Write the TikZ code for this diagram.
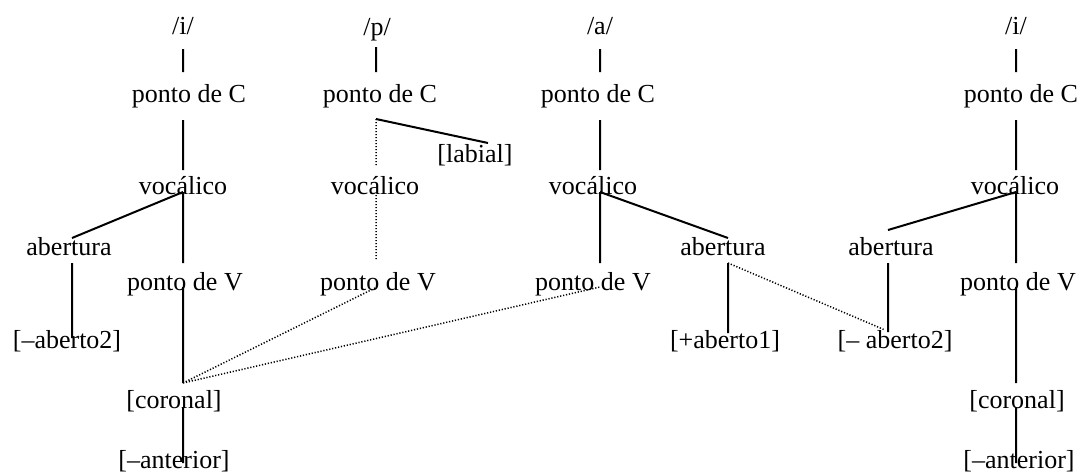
\documentclass[tikz,border=0pt]{standalone}
\usepackage{fontspec}
\setmainfont{Liberation Serif}
\begin{document}
\begin{tikzpicture}[x=1pt,y=-1pt,
  lbl/.style={anchor=base,inner sep=0pt,font=\fontsize{26}{30}\selectfont},
  solid line/.style={line width=2pt},
  dot line/.style={line width=1.5pt,dash pattern=on 1.2pt off 1.8pt}]
\useasboundingbox (0,0) rectangle (1079,474);
% column 1
\node[lbl] (i1) at (183,34) {/i/};
\node[lbl] (pc1) at (189,102) {ponto de C};
\node[lbl] (voc1) at (183,194) {vocálico};
\node[lbl] (ab1) at (69,255) {abertura};
\node[lbl] (pv1) at (185,290) {ponto de V};
\node[lbl] (am1) at (67,348) {[–aberto2]};
\node[lbl] (cor1) at (174,408) {[coronal]};
\node[lbl] (ant1) at (174,468) {[–anterior]};
% column 2
\node[lbl] (p2) at (377,35) {/p/};
\node[lbl] (pc2) at (380,102) {ponto de C};
\node[lbl] (lab2) at (475,162) {[labial]};
\node[lbl] (voc2) at (375,194) {vocálico};
\node[lbl] (pv2) at (378,290) {ponto de V};
% column 3
\node[lbl] (a3) at (600,34) {/a/};
\node[lbl] (pc3) at (598,102) {ponto de C};
\node[lbl] (voc3) at (593,194) {vocálico};
\node[lbl] (ab3) at (723,255) {abertura};
\node[lbl] (pv3) at (593,290) {ponto de V};
\node[lbl] (pa3) at (725,348) {[+aberto1]};
% column 4
\node[lbl] (i4) at (1016,34) {/i/};
\node[lbl] (pc4) at (1021,102) {ponto de C};
\node[lbl] (voc4) at (1015,194) {vocálico};
\node[lbl] (ab4) at (891,255) {abertura};
\node[lbl] (pv4) at (1018,290) {ponto de V};
\node[lbl] (am4) at (895,348) {[– aberto2]};
\node[lbl] (cor4) at (1017,408) {[coronal]};
\node[lbl] (ant4) at (1019,468) {[–anterior]};
% attachment coordinates
\coordinate (i1b) at (183,49);  \coordinate (pc1t) at (183,72);
\coordinate (pc1b) at (183,120); \coordinate (voc1t) at (183,170);
\coordinate (voc1b) at (183,192);
\coordinate (ab1t) at (72,238); \coordinate (ab1b) at (72,263);
\coordinate (pv1t) at (183,263); \coordinate (pv1b) at (183,287);
\coordinate (am1t) at (72,338);
\coordinate (cor1t) at (183,383); \coordinate (cor1b) at (183,407);
\coordinate (ant1t) at (183,463);
\coordinate (p2b) at (376,47); \coordinate (pc2t) at (376,72);
\coordinate (pc2b) at (376,119); \coordinate (voc2t) at (376,165);
\coordinate (lab2t) at (488,143);
\coordinate (voc2b) at (376,195); \coordinate (pv2t) at (376,260);
\coordinate (pv2b) at (375,288);
\coordinate (a3b) at (600,49); \coordinate (pc3t) at (600,72);
\coordinate (pc3b) at (600,120); \coordinate (voc3t) at (600,170);
\coordinate (voc3b) at (600,192);
\coordinate (ab3t) at (728,238); \coordinate (ab3b) at (728,263);
\coordinate (pv3t) at (600,263); \coordinate (pv3b) at (600,287);
\coordinate (pa3t) at (728,333);
\coordinate (i4b) at (1016,49); \coordinate (pc4t) at (1016,72);
\coordinate (pc4b) at (1016,120); \coordinate (voc4t) at (1016,170);
\coordinate (voc4b) at (1016,192);
\coordinate (ab4t) at (888,230); \coordinate (ab4b) at (888,263);
\coordinate (am4t) at (888,332); \coordinate (am4s) at (885,330);
\coordinate (pv4t) at (1016,263); \coordinate (pv4b) at (1016,287);
\coordinate (cor4t) at (1016,383); \coordinate (cor4b) at (1016,407);
\coordinate (ant4t) at (1016,463);
% solid connectors
\draw[solid line] (i1b) -- (pc1t) (pc1b) -- (voc1t) (voc1b) -- (ab1t)
  (voc1b) -- (pv1t) (ab1b) -- (am1t) (pv1b) -- (cor1t) (cor1b) -- (ant1t);
\draw[solid line] (p2b) -- (pc2t) (pc2b) -- (lab2t);
\draw[solid line] (a3b) -- (pc3t) (pc3b) -- (voc3t) (voc3b) -- (ab3t)
  (voc3b) -- (pv3t) (ab3b) -- (pa3t);
\draw[solid line] (i4b) -- (pc4t) (pc4b) -- (voc4t) (voc4b) -- (ab4t)
  (voc4b) -- (pv4t) (ab4b) -- (am4t) (pv4b) -- (cor4t) (cor4b) -- (ant4t);
% dotted connectors
\draw[dot line] (pc2b) -- (voc2t) (voc2b) -- (pv2t)
  (cor1t) -- (pv2b) (cor1t) -- (pv3b) (ab3b) -- (am4s);
\end{tikzpicture}
\end{document}
